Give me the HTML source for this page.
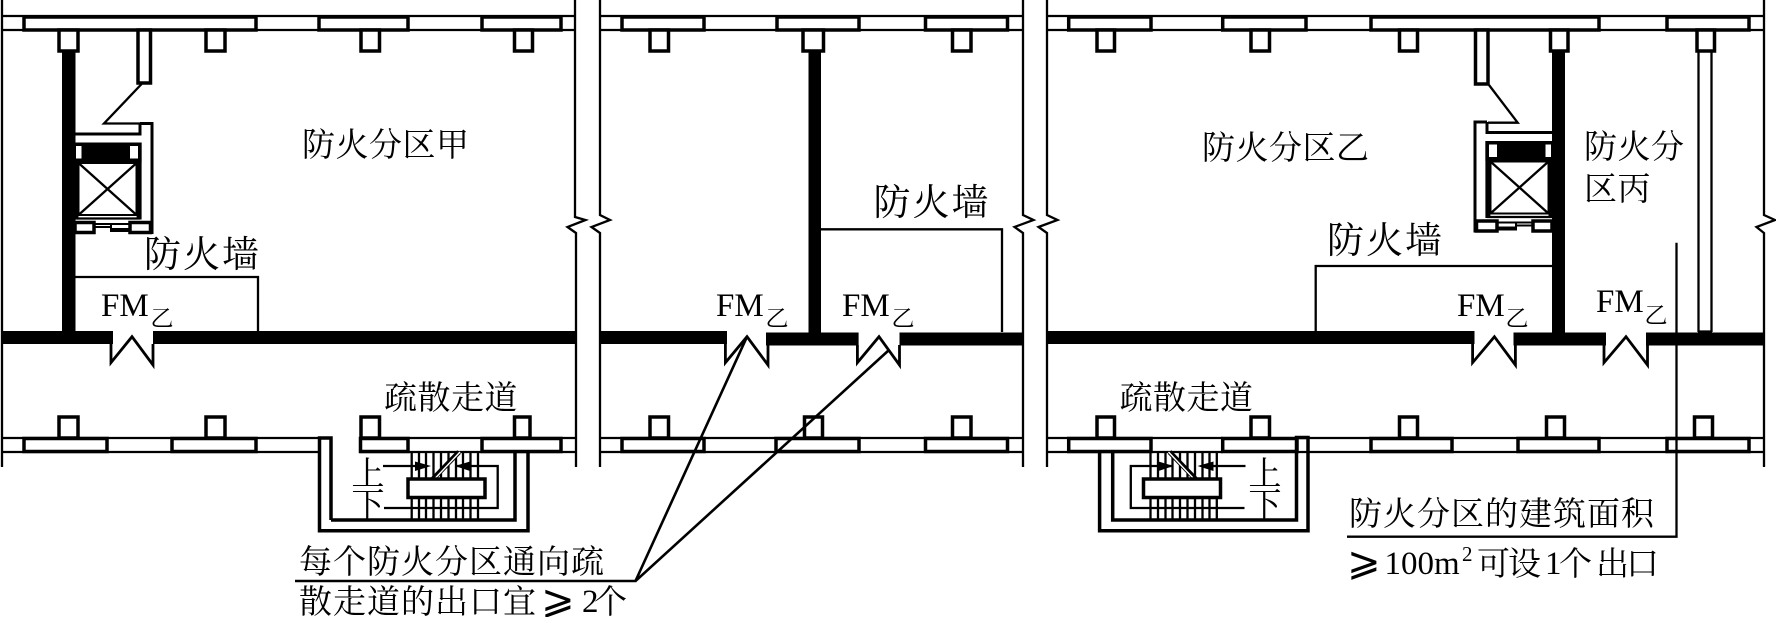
<!DOCTYPE html>
<html><head><meta charset="utf-8"><style>
html,body{margin:0;padding:0;background:#fff;width:1776px;height:617px;overflow:hidden}
svg{display:block}
.c{font-family:"Liberation Serif","Noto Serif CJK SC",serif;fill:#000}
.l{fill:none;stroke:#000;stroke-width:2.3}
.p{fill:#fff;stroke:#000;stroke-width:3.5}
.k{fill:#000;stroke:none}
.d{fill:#fff;stroke:#000;stroke-width:2.8}
</style></head><body>
<svg width="1776" height="617" viewBox="0 0 1776 617" xmlns="http://www.w3.org/2000/svg">
<rect width="1776" height="617" fill="#fff"/>
<!-- break lines -->
<g class="l">
<polyline points="2,0 2,467"/>
<polyline points="575,0 575,217 585.5,220 567.5,227 576,233 576,467"/>
<polyline points="600,0 600,215 610,220 591.5,227 600,233 600,467"/>
<polyline points="1023,0 1023,215 1033.5,220 1014.5,227 1023,233 1023,467"/>
<polyline points="1047,0 1047,215 1057.5,220 1038.5,227 1047,233 1047,467"/>
<polyline points="1764,0 1764,215 1775,220 1756.5,227 1764,233 1764,467"/>
</g>
<!-- wall lines -->
<g class="l">
<path d="M2 16H575M2 30H575M600 16H1023M600 30H1023M1047 16H1764M1047 30H1764"/>
<path d="M2 438H320M2 452H320M360 438H575M360 452H575M600 438H1023M600 452H1023M1047 438H1223M1047 452H1223M1297 438H1764M1297 452H1764"/>
</g>
<!-- top panels -->
<g class="p">
<rect x="24" y="17" width="232" height="13"/><rect x="319" y="17" width="89" height="13"/><rect x="482" y="17" width="79" height="13"/>
<rect x="622" y="17" width="82" height="13"/><rect x="777" y="17" width="82" height="13"/><rect x="925.5" y="17" width="82" height="13"/>
<rect x="1068.7" y="17" width="82.3" height="13"/><rect x="1222.7" y="17" width="83.3" height="13"/><rect x="1371" y="17" width="228" height="13"/><rect x="1667" y="17" width="82" height="13"/>
<!-- top piers -->
<rect x="59" y="30" width="19" height="21"/><rect x="206" y="30" width="19" height="21"/><rect x="361" y="30" width="18.5" height="21"/><rect x="514.5" y="30" width="18" height="21"/>
<rect x="650" y="30" width="18.5" height="21"/><rect x="803" y="30" width="20.5" height="21"/><rect x="952.5" y="30" width="18.5" height="21"/>
<rect x="1097" y="30" width="17.5" height="21"/><rect x="1251" y="30" width="18.5" height="21"/><rect x="1399.5" y="30" width="18" height="21"/><rect x="1550.5" y="30" width="17.5" height="21"/><rect x="1697" y="30" width="17.5" height="21"/>
<!-- ducts -->
<rect x="138" y="30" width="12.5" height="53"/><rect x="1475.5" y="30" width="12.5" height="54"/>
</g>
<!-- thick walls -->
<g class="k">
<rect x="62" y="52" width="13.5" height="285"/><rect x="808.5" y="52" width="12.5" height="285"/><rect x="1552" y="52" width="13" height="285"/>
<rect x="2" y="331" width="111" height="13"/><rect x="153" y="331" width="422" height="13"/>
<rect x="600" y="331" width="127" height="13"/><rect x="766" y="332.5" width="92.6" height="13"/><rect x="899.5" y="332.5" width="123.5" height="13"/>
<rect x="1047" y="331" width="427.5" height="13"/><rect x="1513.5" y="332.5" width="92.5" height="13"/><rect x="1646" y="332.5" width="118" height="13"/>
</g>
<!-- double wall far right -->
<path class="l" d="M1698.5 52V332M1711.5 52V332M1698 331.5H1712"/>
<!-- duct diagonals -->
<polyline class="l" points="141.6,84 104,123.5 140,123.5"/>
<polyline class="l" points="1489,85 1517.7,122.7 1488,122.7"/>
<!-- elevators -->
<g>
<path fill="none" stroke="#000" stroke-width="3" d="M140 123.5H152V232.5H130M75 134H140V123.5"/>
<rect class="k" x="75" y="142.5" width="66.6" height="20"/>
<rect class="k" x="136.6" y="142.5" width="5" height="77"/>
<rect class="k" x="75" y="142.5" width="3.5" height="77"/>
<rect x="76" y="146" width="5.5" height="12.5" fill="#fff"/><rect x="130" y="146" width="8" height="12.5" fill="#fff"/>
<rect x="78.5" y="163" width="58" height="52" fill="#fff" stroke="#000" stroke-width="2"/>
<path class="l" d="M78.5 163L136.6 215M136.6 163L78.5 215M75 218.5H140"/>
<rect x="75" y="222.5" width="19" height="10" fill="#fff" stroke="#000" stroke-width="3.5"/>
<rect x="130" y="222.5" width="20.5" height="10" fill="#fff" stroke="#000" stroke-width="3.5"/>
<path fill="none" stroke="#000" stroke-width="2" d="M94 224H111V229H130M94 227H111V231H130M111 224H130"/>
</g>
<g transform="translate(1627,-1.5) scale(-1,1)">
<path fill="none" stroke="#000" stroke-width="3" d="M140 123.5H152V232.5H130M75 134H140V123.5"/>
<rect class="k" x="75" y="142.5" width="66.6" height="20"/>
<rect class="k" x="136.6" y="142.5" width="5" height="77"/>
<rect class="k" x="75" y="142.5" width="3.5" height="77"/>
<rect x="76" y="146" width="5.5" height="12.5" fill="#fff"/><rect x="130" y="146" width="8" height="12.5" fill="#fff"/>
<rect x="78.5" y="163" width="58" height="52" fill="#fff" stroke="#000" stroke-width="2"/>
<path class="l" d="M78.5 163L136.6 215M136.6 163L78.5 215M75 218.5H140"/>
<rect x="75" y="222.5" width="19" height="10" fill="#fff" stroke="#000" stroke-width="3.5"/>
<rect x="130" y="222.5" width="20.5" height="10" fill="#fff" stroke="#000" stroke-width="3.5"/>
<path fill="none" stroke="#000" stroke-width="2" d="M94 224H111V229H130M94 227H111V231H130M111 224H130"/>
</g>
<!-- firewall leader outlines -->
<g class="l">
<polyline points="75,277 258,277 258,331"/>
<polyline points="821,229.3 1002,229.3 1002,332"/>
<polyline points="1552,266 1315.7,266 1315.7,331"/>
</g>
<!-- doors -->
<g class="d" fill="none">
<polyline fill="none" points="111,344 111,362.6 132,336.7 153,365 153,344"/>
<polyline fill="none" points="725.4,344 725.4,362.6 747,336.7 768,365 768,344"/>
<polyline fill="none" points="857.4,345 857.4,362.6 879,336.7 899.5,365 899.5,345"/>
<polyline fill="none" points="1472.6,344 1472.6,362.6 1494.4,336.7 1515.4,365 1515.4,345"/>
<polyline fill="none" points="1604,345 1604,362.6 1626,336.7 1647.5,365 1647.5,345"/>
</g>
<!-- bottom panels and piers -->
<g class="p">
<rect x="59" y="417" width="19" height="21"/><rect x="206" y="417" width="19" height="21"/><rect x="361" y="417" width="18.5" height="21"/><rect x="514.5" y="417" width="15.5" height="21"/>
<rect x="650" y="417" width="18.5" height="21"/><rect x="804.5" y="417" width="18" height="21"/><rect x="952.5" y="417" width="18.5" height="21"/>
<rect x="1097" y="417" width="17.5" height="21"/><rect x="1251" y="417" width="18.5" height="21"/><rect x="1399.5" y="417" width="18" height="21"/><rect x="1546.5" y="417" width="18" height="21"/><rect x="1694.5" y="417" width="18" height="21"/>
<rect x="24" y="438.5" width="83" height="13"/><rect x="172" y="438.5" width="84" height="13"/><rect x="360.5" y="438.5" width="47.5" height="13"/><rect x="482" y="438.5" width="79" height="13"/>
<rect x="622" y="438.5" width="82" height="13"/><rect x="776" y="438.5" width="83" height="13"/><rect x="925.5" y="438.5" width="82" height="13"/>
<rect x="1068.7" y="438.5" width="82.3" height="13"/><rect x="1222.7" y="438.5" width="74.3" height="13"/><rect x="1371" y="438.5" width="81" height="13"/><rect x="1518" y="438.5" width="81" height="13"/><rect x="1667" y="438.5" width="82" height="13"/>
</g>
<!-- stair shafts -->
<g fill="none" stroke="#000" stroke-width="3.5">
<path d="M331 520V438H319.5V530.7H528V452M331 520H515V452"/>
<path d="M1099.6 452V530.7H1308V437.5H1296.5V520H1112.7V452"/>
</g>
<!-- stairs -->
<g>
<path class="l" d="M411.7 452V519M419 452V519M426 452V519M433.5 452V519M441 452V519M448.5 452V519M456 452V519M463 452V519M470.5 452V519M478 452V519"/>
<path class="l" d="M383 466H425M384 508H497.7V466H455"/>
<polygon class="k" points="415,461.5 431,466 415,471"/><polygon class="k" points="455,466 470,461.5 470,471"/>
<path d="M433 479L459 452" stroke="#000" stroke-width="5" fill="none"/><path d="M434.5 479L460 452" stroke="#fff" stroke-width="1.4" fill="none"/>
<rect class="p" x="408" y="479" width="77" height="18.5"/>
</g>
<g transform="translate(1628.5,0) scale(-1,1)">
<path class="l" d="M411.7 452V519M419 452V519M426 452V519M433.5 452V519M441 452V519M448.5 452V519M456 452V519M463 452V519M470.5 452V519M478 452V519"/>
<path class="l" d="M383 466H425M384 508H497.7V466H455"/>
<polygon class="k" points="415,461.5 431,466 415,471"/><polygon class="k" points="455,466 470,461.5 470,471"/>
<path d="M433 479L459 452" stroke="#000" stroke-width="5" fill="none"/><path d="M434.5 479L460 452" stroke="#fff" stroke-width="1.4" fill="none"/>
<rect class="p" x="408" y="479" width="77" height="18.5"/>
</g>
<!-- leaders -->
<g class="l">
<path d="M295 581H635.5L747 336.7M635.5 581L889 350" stroke-width="2.6"/>
<path d="M1676.5 242.7V536.7H1347"/>
</g>
<!-- labels -->
<g class="c" font-size="33">
<text x="302" y="156" letter-spacing="0.5">防火分区甲</text>
<text x="1202" y="159" letter-spacing="0.5">防火分区乙</text>
<text x="1584" y="158" letter-spacing="0.5">防火分</text>
<text x="1584" y="200" letter-spacing="0.5">区丙</text>
<text x="299" y="573" letter-spacing="1">每个防火分区通向疏</text>
<text x="299" y="613" letter-spacing="1">散走道的出口宜</text>
<text x="594" y="613">个</text>
<text x="1349" y="525" letter-spacing="1">防火分区的建筑面积</text>
<text x="1477" y="575" letter-spacing="-2">可设</text>
<text x="1559" y="575">个</text>
<text x="1596" y="575" letter-spacing="-3">出口</text>
<text x="384" y="409" letter-spacing="0.5">疏散走道</text>
<text x="1119.5" y="409" letter-spacing="0.5">疏散走道</text>
</g>
<g class="c" font-size="37">
<text x="144" y="267" letter-spacing="2">防火墙</text>
<text x="873.5" y="215" letter-spacing="2">防火墙</text>
<text x="1327" y="253" letter-spacing="2">防火墙</text>
</g>
<g class="c" font-size="33">
<text x="101" y="316">FM</text><text x="716" y="316">FM</text><text x="842" y="316">FM</text><text x="1457" y="316">FM</text><text x="1596" y="312">FM</text>
<text x="582" y="612">2</text>
<text x="1384.5" y="574">100m</text>
<text x="1545" y="574">1</text>
<text x="1462" y="561" font-size="21">2</text>
<text x="541" y="613" font-size="40" font-family="DejaVu Sans,Liberation Serif,serif">⩾</text>
<text x="1347" y="575" font-size="40" font-family="DejaVu Sans,Liberation Serif,serif">⩾</text>
</g>
<g class="c" font-size="23">
<text x="150.5" y="326">乙</text><text x="765.5" y="326">乙</text><text x="891.5" y="326">乙</text><text x="1505.5" y="326">乙</text><text x="1644.5" y="323">乙</text>
</g>
<g class="c" font-size="33" text-anchor="middle">
<text x="368" y="485">上</text><text x="368" y="516">下</text>
<text x="1265" y="485">上</text><text x="1265" y="516">下</text>
</g>
</svg>
</body></html>
